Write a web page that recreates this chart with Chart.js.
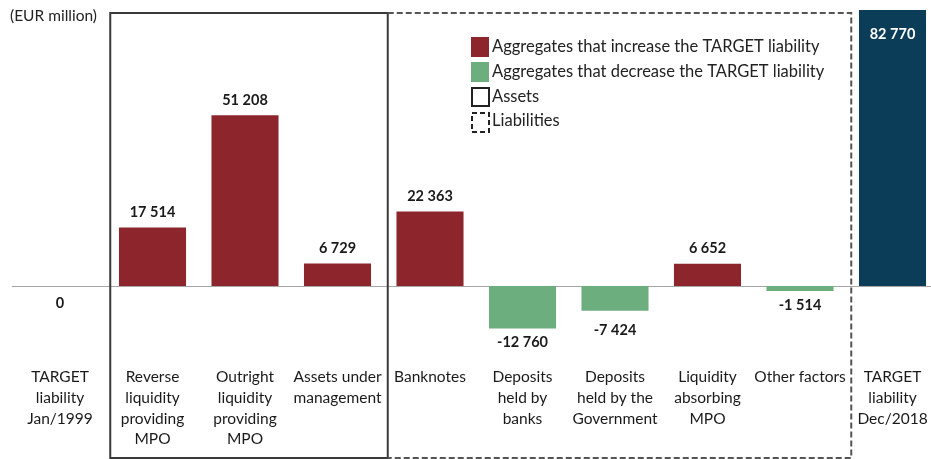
<!DOCTYPE html>
<html>
<head>
<meta charset="utf-8">
<script src="https://cdn.jsdelivr.net/npm/chart.js@4.4.0/dist/chart.umd.min.js"></script>
<style>
html,body{margin:0;padding:0;overflow:hidden;background:#fff;}
#wrap{width:940px;height:459px;position:relative;}
</style>
</head>
<body>
<div id="wrap"><canvas id="c"></canvas></div>
<script>
const categories = [
  ["TARGET","liability","Jan/1999"],
  ["Reverse","liquidity","providing","MPO"],
  ["Outright","liquidity","providing","MPO"],
  ["Assets under","management"],
  ["Banknotes"],
  ["Deposits","held by","banks"],
  ["Deposits","held by the","Government"],
  ["Liquidity","absorbing","MPO"],
  ["Other factors"],
  ["TARGET","liability","Dec/2018"]
];
const values = [0, 17514, 51208, 6729, 22363, -12760, -7424, 6652, -1514, 82770];
const legendLabels = [
  "Aggregates that increase the TARGET liability",
  "Aggregates that decrease the TARGET liability",
  "Assets",
  "Liabilities"
];
const unitLabel = "(EUR million)";
const assetRange = [1, 3];      // category indices inside Assets box
const liabilityRange = [4, 8];  // category indices inside Liabilities box

const RED = '#8c262c', GREEN = '#6cae7d', NAVY = '#0c3d58';
const FONT = 'Lato, "Open Sans", sans-serif';

function fmt(v){
  const s = Math.abs(v).toString().replace(/\B(?=(\d{3})+(?!\d))/g, ' ');
  return (v < 0 ? '-' : '') + s;
}

const deco = {
  id: 'deco',
  beforeDatasetsDraw(chart){
    const {ctx, chartArea, scales:{x, y}} = chart;
    const y0 = y.getPixelForValue(0);
    ctx.save();
    ctx.strokeStyle = '#a6a6a6';
    ctx.lineWidth = 1;
    ctx.beginPath();
    ctx.moveTo(chartArea.left - 2, y0 + 0.5);
    ctx.lineTo(chart.width, y0 + 0.5);
    ctx.stroke();
    ctx.restore();
  },
  afterDatasetsDraw(chart){
    const {ctx, scales:{x, y}} = chart;
    const meta = chart.getDatasetMeta(0);
    ctx.save();
    // data labels
    ctx.font = 'bold 14.5px ' + FONT;
    ctx.textAlign = 'center';
    ctx.textBaseline = 'middle';
    meta.data.forEach((bar, i) => {
      const v = values[i];
      const end = Math.max(bar.y, bar.base);
      if (i === values.length - 1) {
        ctx.fillStyle = '#ffffff';
        ctx.fillText(fmt(v), bar.x, bar.y + 24);
      } else if (v > 0) {
        ctx.fillStyle = '#1a1a1a';
        ctx.fillText(fmt(v), bar.x, bar.y - 15);
      } else {
        ctx.fillStyle = '#1a1a1a';
        ctx.fillText(fmt(v), bar.x, end + (v === 0 ? 17 : 14) + (i === 6 ? 6 : 0));
      }
    });
    // boxes
    const bnd = (i) => (x.getPixelForValue(i) + x.getPixelForValue(i + 1)) / 2;
    const top = 13, bottom = 458;
    const aL = bnd(assetRange[0] - 1) + 4, aR = bnd(assetRange[1]) + 4;
    const lR = bnd(liabilityRange[1]) + 5;
    ctx.strokeStyle = '#3a3a3a';
    ctx.lineWidth = 2;
    ctx.setLineDash([]);
    ctx.strokeRect(aL, top, aR - aL, bottom - top);
    ctx.strokeStyle = '#555';
    ctx.setLineDash([6, 3]);
    ctx.beginPath();
    ctx.moveTo(aR, top); ctx.lineTo(lR, top); ctx.lineTo(lR, bottom); ctx.lineTo(aR, bottom);
    ctx.stroke();
    ctx.setLineDash([]);
    // unit label
    ctx.fillStyle = '#222';
    ctx.font = '15.5px ' + FONT;
    ctx.textAlign = 'left';
    ctx.fillText(unitLabel, 10, 16);
    // legend
    const lx = 471, ty = [47, 72, 97, 121];
    ctx.fillStyle = RED; ctx.fillRect(lx, 37, 18, 20);
    ctx.fillStyle = GREEN; ctx.fillRect(lx, 62, 18, 20);
    ctx.strokeStyle = '#222'; ctx.lineWidth = 2;
    ctx.strokeRect(lx + 1, 88, 17, 18);
    ctx.setLineDash([5, 3]);
    ctx.strokeRect(lx + 1, 113, 17, 19);
    ctx.setLineDash([]);
    ctx.fillStyle = '#222';
    ctx.font = '16.5px ' + FONT;
    legendLabels.forEach((t, i) => ctx.fillText(t, 492, ty[i]));
    ctx.restore();
  }
};

new Chart(document.getElementById('c'), {
  type: 'bar',
  data: {
    labels: categories,
    datasets: [{
      data: values,
      backgroundColor: (c) => c.dataIndex === values.length - 1 ? NAVY : (values[c.dataIndex] >= 0 ? RED : GREEN),
      barPercentage: 0.725,
      categoryPercentage: 1.0,
      borderWidth: 0
    }]
  },
  options: {
    responsive: true,
    maintainAspectRatio: false,
    animation: false,
    layout: { padding: { top: 10, left: 13.75, right: 1.25, bottom: 0 } },
    plugins: { legend: { display: false }, tooltip: { enabled: false } },
    scales: {
      x: {
        grid: { display: false, drawTicks: false },
        border: { display: false },
        ticks: { color: '#1a1a1a', font: { family: FONT, size: 15.5, lineHeight: 1.33 }, padding: 5, maxRotation: 0, autoSkip: false },
        afterFit: (s) => { s.height = 97; }
      },
      y: {
        display: false,
        min: -22800,
        max: 82800
      }
    }
  },
  plugins: [deco]
});
</script>
</body>
</html>
